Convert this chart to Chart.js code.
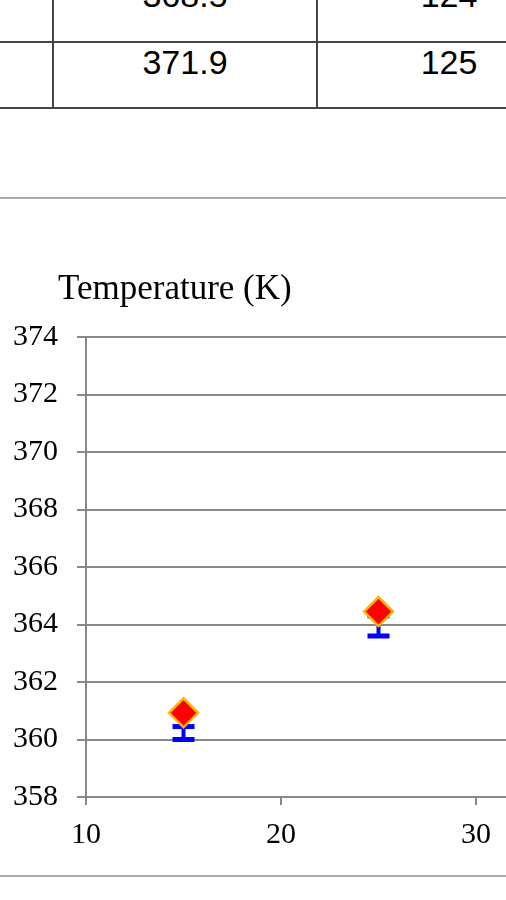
<!DOCTYPE html>
<html>
<head>
<meta charset="utf-8">
<script src="https://cdn.jsdelivr.net/npm/chart.js@4"></script>
<style>
  html, body { margin: 0; padding: 0; background: #fff; overflow: hidden; }
  body { width: 506px; height: 900px; position: relative; }
  .hl { position: absolute; left: 0; width: 506px; height: 2px; background: #444; }
  .vl { position: absolute; top: 0; width: 2px; height: 109px; background: #444; }
  .cell { position: absolute; font: 34px "Liberation Sans", Arial, sans-serif; line-height: 34px; text-align: center; color: #000; }
  .rule { position: absolute; left: 0; width: 506px; height: 2px; background: #ababab; }
  #wrap { position: absolute; left: 0; top: 200px; width: 700px; height: 657px; }
</style>
</head>
<body>
<!-- bottom of the table above the chart -->
<div class="hl" style="top:41px"></div>
<div class="hl" style="top:107px"></div>
<div class="vl" style="left:52px"></div>
<div class="vl" style="left:316px"></div>
<div class="cell" style="left:53px; width:264px; top:-22px">368.5</div>
<div class="cell" style="left:318px; width:262px; top:-22px">124</div>
<div class="cell" style="left:53px; width:264px; top:45px">371.9</div>
<div class="cell" style="left:318px; width:262px; top:45px">125</div>
<div class="rule" style="top:197px"></div>
<div class="rule" style="top:875px"></div>

<div id="wrap"><canvas id="tempChart"></canvas></div>

<script>
// data
var xValues = [15, 25];
var temps = [360.93, 364.45];
var errLow = [360.0, 363.6];
var errHigh = [360.45, 364.3];
var yTitle = "Temperature (K)";

var serif = '"Liberation Serif", "Times New Roman", serif';

// blue error bars, drawn under the diamonds
var errorBars = {
  id: "errorBars",
  beforeDatasetsDraw: function (chart) {
    var ctx = chart.ctx, x = chart.scales.x, y = chart.scales.y;
    ctx.save();
    ctx.fillStyle = "#0000FF";
    xValues.forEach(function (v, i) {
      var px = x.getPixelForValue(v);
      var top = y.getPixelForValue(errHigh[i]);
      var bot = y.getPixelForValue(errLow[i]);
      ctx.fillRect(px - 2, top, 4, bot - top);
      ctx.fillRect(px - 11, top - 2.5, 22, 5);
      ctx.fillRect(px - 11, bot - 2.5, 22, 5);
    });
    ctx.restore();
  }
};

// axis caption sits above the y axis labels
var axisCaption = {
  id: "axisCaption",
  afterDraw: function (chart) {
    var ctx = chart.ctx;
    ctx.save();
    ctx.font = "35px " + serif;
    ctx.fillStyle = "#000";
    ctx.textAlign = "left";
    ctx.textBaseline = "alphabetic";
    ctx.fillText(yTitle, chart.chartArea.left - 28, chart.chartArea.top - 38);
    ctx.restore();
  }
};

new Chart("tempChart", {
  type: "scatter",
  data: {
    datasets: [{
      data: xValues.map(function (v, i) { return { x: v, y: temps[i] }; }),
      showLine: false,
      pointStyle: "rectRot",
      pointRadius: 14.5,
      pointBackgroundColor: "#FF0000",
      pointBorderColor: "#FFB400",
      pointBorderWidth: 2.5
    }]
  },
  options: {
    responsive: true,
    maintainAspectRatio: false,
    animation: false,
    layout: { padding: { top: 137, right: 29, bottom: 0, left: 0 } },
    plugins: { legend: { display: false }, tooltip: { enabled: false } },
    scales: {
      x: {
        type: "linear",
        min: 10, max: 40,
        afterFit: function (s) { s.height = 60; },
        grid: { drawOnChartArea: false, color: "#888", lineWidth: 2, tickLength: 8 },
        border: { color: "#888", width: 2 },
        ticks: { stepSize: 10, padding: 12, color: "#000", font: { family: serif, size: 30 } }
      },
      y: {
        min: 358, max: 374,
        afterFit: function (s) { s.width = 86; },
        grid: { color: "#888", lineWidth: 2, tickLength: 9 },
        border: { color: "#888", width: 2 },
        ticks: { stepSize: 2, padding: 19, color: "#000", font: { family: serif, size: 30 } }
      }
    }
  },
  plugins: [errorBars, axisCaption]
});
</script>
</body>
</html>
